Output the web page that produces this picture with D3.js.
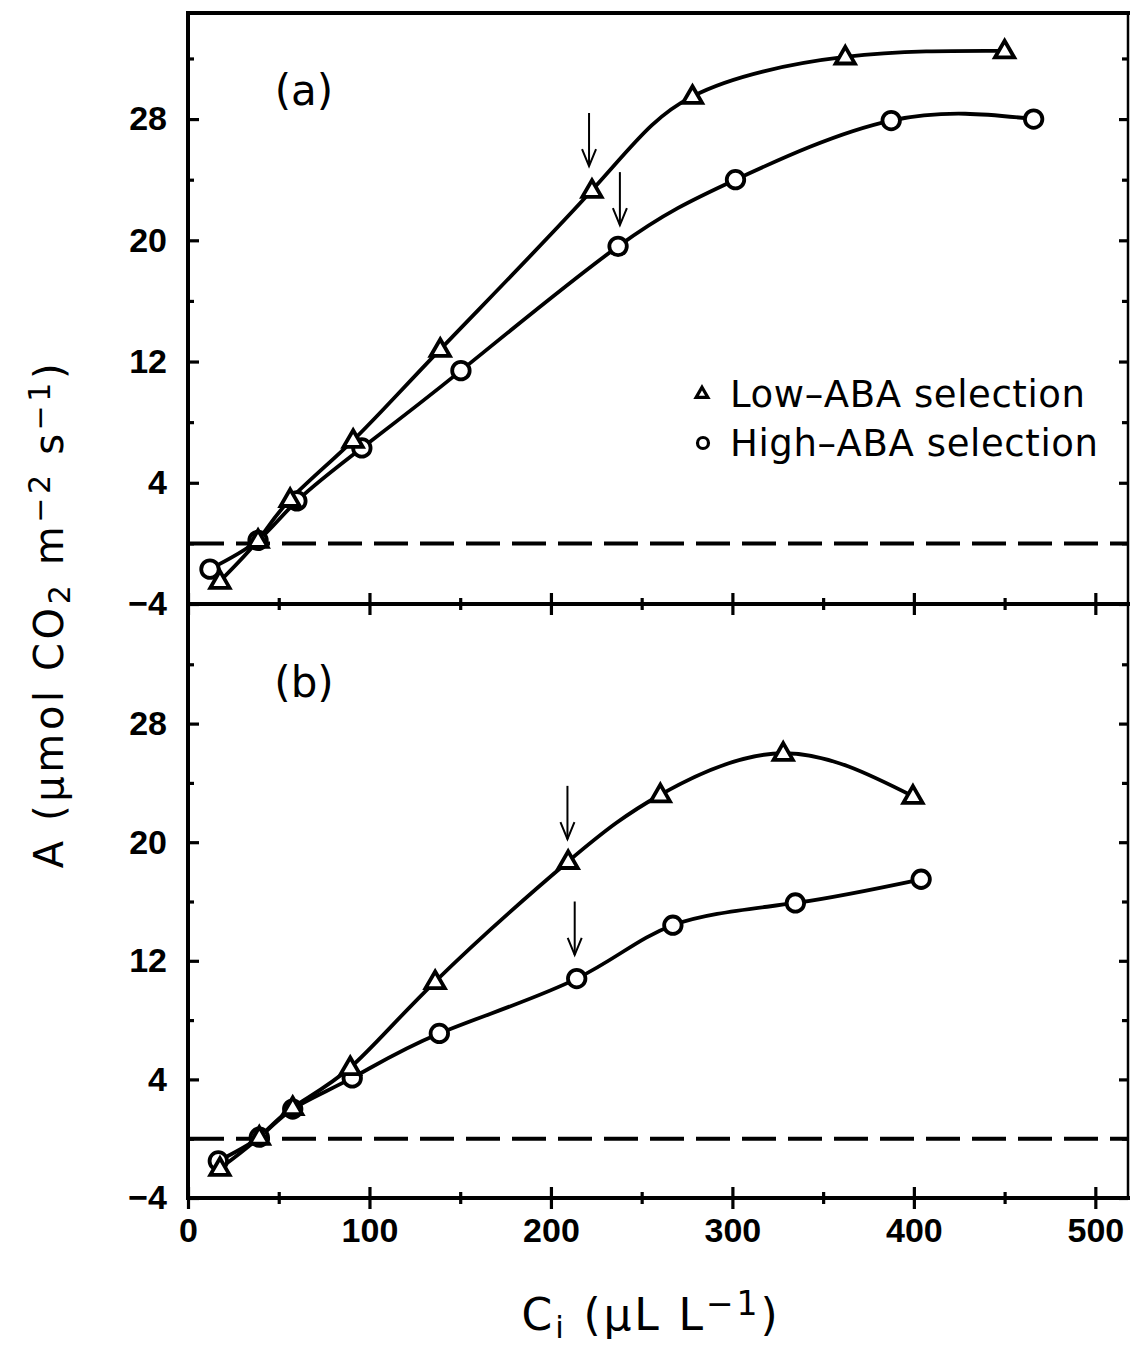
<!DOCTYPE html>
<html><head><meta charset="utf-8">
<script src="https://cdn.jsdelivr.net/npm/d3@7"></script>
<style>body{margin:0;background:#fff}svg{display:block}</style>
</head><body>
<svg id="c" width="1130" height="1345"></svg>
<script>
// ---------- data ----------
// Panel (a)
const ciLowA  = [17.6, 38.6, 56.3, 91.0, 139.0, 222.6, 278.0, 362.2, 450.0];
const aLowA   = [-2.5, 0.2, 2.9, 6.8, 12.8, 23.3, 29.5, 32.1, 32.5];
const ciHighA = [12.1, 38.6, 60.0, 95.8, 150.4, 237.0, 301.7, 387.5, 466.0];
const aHighA  = [-1.7, 0.2, 2.8, 6.3, 11.4, 19.6, 24.0, 27.9, 28.0];
// Panel (b)
const ciLowB  = [17.6, 39.3, 57.7, 89.4, 136.2, 209.5, 260.3, 328.0, 399.5];
const aLowB   = [-2.0, 0.1, 2.1, 4.8, 10.6, 18.7, 23.2, 26.0, 23.1];
const ciHighB = [16.7, 39.3, 57.7, 90.5, 138.5, 214.2, 267.2, 334.7, 404.0];
const aHighB  = [-1.5, 0.1, 2.0, 4.1, 7.1, 10.8, 14.4, 15.9, 17.5];
// Arrows (x position, start value, tip value)
const arrowCiA  = [221, 238];
const arrowTopA = [28.4, 24.5];
const arrowTipA = [24.9, 21.0];
const arrowCiB  = [209.1, 213.1];
const arrowTopB = [23.8, 16.0];
const arrowTipB = [20.2, 12.4];
// Ticks
const xMajor = [0, 100, 200, 300, 400, 500];
const xMinor = [50, 150, 250, 350, 450];
const yMajor = [-4, 4, 12, 20, 28];
const yMinor = [0, 8, 16, 24, 32];
const seriesNames = ["Low\u2013ABA selection", "High\u2013ABA selection"];
const panelLabels = ["(a)", "(b)"];

// ---------- drawing ----------
const svg = d3.select("#c");
svg.append("rect").attr("width", 1130).attr("height", 1345).attr("fill", "#fff");

const L = 188, R = 1128;
const x = d3.scaleLinear().domain([0, 518]).range([L, R]);
const yA = d3.scaleLinear().domain([-4, 35]).range([604, 13]);
const yB = d3.scaleLinear().domain([-4, 36]).range([1198, 605]);

const tickFont = "'Liberation Sans', Arial, sans-serif";
const textFont = "'DejaVu Sans', sans-serif";

const zip = (a, b) => a.map((v, i) => [v, b[i]]);

const panels = [
  {y: yA, label: panelLabels[0], low: zip(ciLowA, aLowA), high: zip(ciHighA, aHighA),
   arrows: arrowCiA.map((c, i) => [c, arrowTopA[i], arrowTipA[i]]), legend: true, top: 13, bottom: 604},
  {y: yB, label: panelLabels[1], low: zip(ciLowB, aLowB), high: zip(ciHighB, aHighB),
   arrows: arrowCiB.map((c, i) => [c, arrowTopB[i], arrowTipB[i]]), legend: false, top: 605, bottom: 1198}
];

function styleAxis(g) {
  g.select(".domain").remove();
  g.selectAll(".tick line").attr("stroke", "#000").attr("stroke-width", 3.2);
}

panels.forEach((p, pi) => {
  const y = p.y;
  const g = svg.append("g");

  // left axis ticks (inward) + labels
  g.append("g").attr("transform", `translate(${L},0)`)
    .call(d3.axisRight(y).tickValues(yMajor).tickSize(11).tickFormat(""))
    .call(styleAxis);
  g.append("g").attr("transform", `translate(${L},0)`)
    .call(d3.axisRight(y).tickValues(yMinor).tickSize(6).tickFormat(""))
    .call(styleAxis);
  const yl = g.append("g").attr("transform", `translate(${L},0)`)
    .call(d3.axisLeft(y).tickValues(yMajor).tickSize(0).tickPadding(21).tickFormat(d3.format("d")))
    .call(styleAxis);
  yl.selectAll("text").attr("font-family", tickFont).attr("font-weight", "bold")
    .attr("font-size", 34).attr("fill", "#000");

  // right axis ticks (inward)
  g.append("g").attr("transform", `translate(${R},0)`)
    .call(d3.axisLeft(y).tickValues(yMajor).tickSize(9).tickFormat(""))
    .call(styleAxis);
  g.append("g").attr("transform", `translate(${R},0)`)
    .call(d3.axisLeft(y).tickValues(yMinor).tickSize(6).tickFormat(""))
    .call(styleAxis);

  // bottom axis ticks crossing the line
  [[xMajor, 11], [xMinor, 6]].forEach(([vals, s]) => {
    g.append("g").attr("transform", `translate(0,${p.bottom})`)
      .call(d3.axisBottom(x).tickValues(vals).tickSize(s).tickFormat(""))
      .call(styleAxis);
    g.append("g").attr("transform", `translate(0,${p.bottom})`)
      .call(d3.axisTop(x).tickValues(vals).tickSize(s).tickFormat(""))
      .call(styleAxis);
  });

  if (pi === 1) {
    const xl = g.append("g").attr("transform", `translate(0,${p.bottom})`)
      .call(d3.axisBottom(x).tickValues(xMajor).tickSize(0).tickPadding(20).tickFormat(d3.format("d")))
      .call(styleAxis);
    xl.selectAll("text").attr("font-family", tickFont).attr("font-weight", "bold")
      .attr("font-size", 34).attr("fill", "#000");
  }

  // zero dashed line
  g.append("line").attr("x1", L + 2).attr("x2", R).attr("y1", y(0)).attr("y2", y(0))
    .attr("stroke", "#000").attr("stroke-width", 4).attr("stroke-dasharray", "34,12");

  // curves
  const line = d3.line().x(d => x(d[0])).y(d => y(d[1])).curve(d3.curveNatural);
  [p.low, p.high].forEach(s => {
    g.append("path").datum(s).attr("d", line).attr("fill", "none")
      .attr("stroke", "#000").attr("stroke-width", 3.8).attr("stroke-linejoin", "round");
  });

  // markers
  const tri = d3.symbol().type(d3.symbolTriangle).size(160);
  const cir = d3.symbol().type(d3.symbolCircle).size(240);
  g.selectAll(".hi").data(p.high).join("path")
    .attr("transform", d => `translate(${x(d[0])},${y(d[1])})`).attr("d", cir)
    .attr("fill", "#fff").attr("stroke", "#000").attr("stroke-width", 3.8);
  g.selectAll(".lo").data(p.low).join("path")
    .attr("transform", d => `translate(${x(d[0])},${y(d[1]) + 1})`).attr("d", tri)
    .attr("fill", "#fff").attr("stroke", "#000").attr("stroke-width", 3.8);

  // arrows
  p.arrows.forEach(([c, t0, t1]) => {
    const ax = x(c), y0 = y(t0), y1 = y(t1);
    g.append("line").attr("x1", ax).attr("x2", ax).attr("y1", y0).attr("y2", y1)
      .attr("stroke", "#000").attr("stroke-width", 2);
    g.append("path").attr("d", `M${ax - 7},${y1 - 17}L${ax},${y1}L${ax + 7},${y1 - 17}`)
      .attr("fill", "none").attr("stroke", "#000").attr("stroke-width", 2);
  });

  // panel label
  g.append("text").attr("x", 304).attr("y", p.top + 92).attr("text-anchor", "middle")
    .attr("font-family", textFont).attr("font-size", 42).text(p.label);

  // legend
  if (p.legend) {
    const lg = g.append("g");
    lg.append("path").attr("transform", "translate(702,394)")
      .attr("d", d3.symbol().type(d3.symbolTriangle).size(60))
      .attr("fill", "#fff").attr("stroke", "#000").attr("stroke-width", 3.2);
    lg.append("path").attr("transform", "translate(703,443)")
      .attr("d", d3.symbol().type(d3.symbolCircle).size(95))
      .attr("fill", "#fff").attr("stroke", "#000").attr("stroke-width", 3.2);
    lg.append("text").attr("x", 730).attr("y", 407).attr("font-family", textFont)
      .attr("font-size", 37).attr("textLength", 355).attr("lengthAdjust", "spacing")
      .text(seriesNames[0]);
    lg.append("text").attr("x", 730).attr("y", 456).attr("font-family", textFont)
      .attr("font-size", 37).attr("textLength", 368).attr("lengthAdjust", "spacing")
      .text(seriesNames[1]);
  }
});

// frame
const frame = svg.append("g").attr("stroke", "#000").attr("stroke-linecap", "square");
frame.append("line").attr("x1", L).attr("x2", R).attr("y1", 13).attr("y2", 13).attr("stroke-width", 4);
frame.append("line").attr("x1", L).attr("x2", R).attr("y1", 604).attr("y2", 604).attr("stroke-width", 4);
frame.append("line").attr("x1", L).attr("x2", R).attr("y1", 1198).attr("y2", 1198).attr("stroke-width", 4);
frame.append("line").attr("x1", L).attr("x2", L).attr("y1", 13).attr("y2", 1198).attr("stroke-width", 4);
frame.append("line").attr("x1", R).attr("x2", R).attr("y1", 13).attr("y2", 1198).attr("stroke-width", 2.5);

// axis titles
function fitLetterSpacing(t, target) {
  const n = t.text().length;
  const len = t.node().getComputedTextLength();
  t.attr("letter-spacing", Math.max(0, (target - len) / (n - 1)));
}

const yt = svg.append("text").attr("transform", "translate(63,614) rotate(-90)")
  .attr("text-anchor", "middle").attr("font-family", textFont).attr("font-size", 40);
yt.append("tspan").text("A (\u03bcmol CO");
yt.append("tspan").attr("baseline-shift", "-22%").attr("font-size", "75%").text("2");
yt.append("tspan").text(" m");
yt.append("tspan").attr("baseline-shift", "45%").attr("font-size", "75%").text("\u22122");
yt.append("tspan").text(" s");
yt.append("tspan").attr("baseline-shift", "45%").attr("font-size", "75%").text("\u22121");
yt.append("tspan").text(")");
fitLetterSpacing(yt, 505);

const xt = svg.append("text").attr("x", 651).attr("y", 1330)
  .attr("text-anchor", "middle").attr("font-family", textFont).attr("font-size", 44);
xt.append("tspan").text("C");
xt.append("tspan").attr("baseline-shift", "-25%").attr("font-size", "70%").text("i");
xt.append("tspan").text(" (\u03bcL L");
xt.append("tspan").attr("baseline-shift", "45%").attr("font-size", "75%").text("\u22121");
xt.append("tspan").text(")");
fitLetterSpacing(xt, 256);
</script>
</body></html>
